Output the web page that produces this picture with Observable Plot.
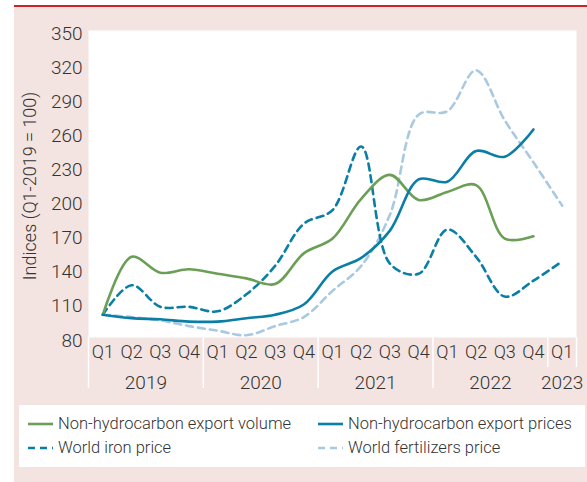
<!DOCTYPE html>
<html>
<head>
<meta charset="utf-8">
<script src="https://cdn.jsdelivr.net/npm/d3@7"></script>
<script src="https://cdn.jsdelivr.net/npm/@observablehq/plot@0.6"></script>
<style>
  html, body { margin: 0; padding: 0; background: #ffffff; }
  body { width: 587px; height: 482px; position: relative; overflow: hidden;
         font-family: Roboto, "Liberation Sans", sans-serif; font-weight: 300; color: #333; }
  #bg { position: absolute; left: 14px; top: 5px; width: 573px; height: 477px;
        background: #f3e4e1; border-top: 2.5px solid #cc2229; box-sizing: border-box; }
  #chart { position: absolute; left: 0; top: 0; }
  #legend { position: absolute; left: 19px; top: 405px; width: 566px; height: 62px; background: #fff; }
  .item { position: absolute; display: flex; align-items: center; font-size: 16.5px; line-height: 20px; color: #333; white-space: nowrap; }
  .item svg { margin-right: 5px; }
</style>
</head>
<body>
<div id="bg"></div>
<div id="chart"></div>
<div id="legend"></div>
<script>
// Categories
const quarters = ["Q1","Q2","Q3","Q4","Q1","Q2","Q3","Q4","Q1","Q2","Q3","Q4","Q1","Q2","Q3","Q4","Q1"];
const years = ["2019","2020","2021","2022","2023"];
const yearStart = [0, 4, 8, 12, 16];   // index of first quarter of each year
const yearLen = [4, 4, 4, 4, 1];
const yTicks = [80, 110, 140, 170, 200, 230, 260, 290, 320, 350];
const yLabel = "Indices (Q1-2019 = 100)";

// Series (Q1-2019 = 100)
const exportVolume = [100, 151, 137, 140, 136, 132, 127, 154, 167, 202, 223, 201, 208, 214, 167, 169];
const exportPrices = [100, 97, 96, 94, 94, 97, 100, 109, 138, 150, 174, 219, 217, 244, 239, 263];
const ironPrice    = [100, 126, 107, 107, 103, 118, 143, 180, 192, 248, 145, 136, 175, 151, 116, 130, 147];
const fertPrice    = [100, 98, 95, 90, 86, 82, 90, 98, 121, 143, 188, 276, 279, 315, 271, 234, 196];

const seriesNames = ["Non-hydrocarbon export volume", "Non-hydrocarbon export prices", "World iron price", "World fertilizers price"];
const seriesColors = ["#6a9f55", "#0b7ea6", "#0b7ea6", "#a9c9e1"];
const seriesDash = [null, null, "7,5", "7,5"];
const seriesValues = [exportVolume, exportPrices, ironPrice, fertPrice];

const rows = [];
seriesValues.forEach((vals, s) => vals.forEach((v, i) => rows.push({series: seriesNames[s], i, v})));

const fontFam = 'Roboto, "Liberation Sans", sans-serif';

const lineMarks = [3, 2, 0, 1].map(s => Plot.line(rows.filter(d => d.series === seriesNames[s]), {
  x: "i", y: "v", stroke: seriesColors[s], strokeWidth: 2.6,
  strokeDasharray: seriesDash[s] || undefined, curve: "catmull-rom"
}));

const sepMain = yearStart.slice(0, 4).map(d => d - 0.5);
const sepShort = [yearStart[4] - 0.5, yearStart[4] + 0.5];
const yearCenters = yearStart.map((s, k) => s + (yearLen[k] - 1) / 2);

const plot = Plot.plot({
  width: 587, height: 400,
  marginLeft: 88, marginRight: 11, marginTop: 30, marginBottom: 63,
  style: {background: "transparent", fontFamily: fontFam, fontWeight: 300, color: "#333"},
  x: {type: "linear", domain: [-0.5, quarters.length - 0.5]},
  y: {domain: [80, 350]},
  marks: [
    Plot.frame({fill: "white", stroke: "none"}),
    Plot.axisX({ticks: sepMain, tickSize: 51, stroke: "white", strokeWidth: 1.5, tickFormat: () => "", label: null}),
    Plot.axisX({ticks: sepShort, tickSize: 30, stroke: "white", strokeWidth: 1.5, tickFormat: () => "", label: null}),
    Plot.axisX({ticks: d3.range(quarters.length), tickSize: 0, tickPadding: 8, tickFormat: i => quarters[i],
                fontSize: 18, fill: "#333", label: null}),
    Plot.axisX({ticks: yearCenters, tickSize: 0, tickPadding: 38, tickFormat: c => years[yearCenters.indexOf(c)],
                fontSize: 19, fill: "#333", label: null}),
    Plot.axisY({ticks: yTicks, tickSize: 0, tickPadding: 6, dy: 3, fontSize: 19, fill: "#333", label: null}),
    Plot.text([yLabel], {frameAnchor: "left", textAnchor: "middle", rotate: -90, dx: -58, dy: 2, fontSize: 18, fill: "#333"}),
    ...lineMarks
  ]
});
document.getElementById("chart").appendChild(plot);

// Legend
const legend = document.getElementById("legend");
const pos = [[9, 19], [299, 19], [9, 43], [299, 43]];
[0, 1, 2, 3].forEach((s, k) => {
  const div = document.createElement("div");
  div.className = "item";
  div.style.left = pos[k][0] + "px";
  div.style.top = (pos[k][1] - 11) + "px";
  const dash = seriesDash[s] ? `stroke-dasharray="7,5"` : "";
  div.innerHTML = `<svg width="25" height="22"><line x1="0" x2="25" y1="11" y2="11" stroke="${seriesColors[s]}" stroke-width="2.6" ${dash}/></svg><span>${seriesNames[s]}</span>`;
  legend.appendChild(div);
});
</script>
</body>
</html>
